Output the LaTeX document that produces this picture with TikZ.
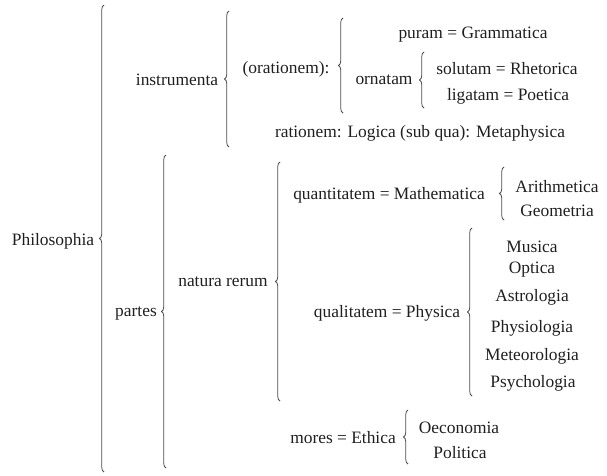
\documentclass[tikz,border=0pt]{standalone}
\usepackage{fontspec}
\setmainfont{Liberation Serif}
\usetikzlibrary{decorations.pathreplacing}
\begin{document}
\begin{tikzpicture}[x=1pt,y=-1pt,
  lbl/.style={inner sep=0pt, font=\rmfamily\fontsize{17.4}{20}\selectfont, text=black!88},
  brc/.style={decorate, decoration={brace, amplitude=4.5pt}, draw=black!70, line width=0.8pt}]
\useasboundingbox (0,0) rectangle (607,475);
% labels
\node[lbl] (phil) at (53,241) {Philosophia};
\node[lbl] (instr) at (177,80) {instrumenta};
\node[lbl] (orat) at (286,69) {(orationem):};
\node[lbl] (puram) at (473,35) {puram = Grammatica};
\node[lbl] (ornat) at (384,80) {ornatam};
\node[lbl] (solut) at (507,69) {solutam = Rhetorica};
\node[lbl] (ligat) at (508,96) {ligatam = Poetica};
\node[lbl] (ration) at (420,133) {rationem: Logica (sub qua): Metaphysica};
\node[lbl] (partes) at (136,313) {partes};
\node[lbl] (natura) at (223,282) {natura rerum};
\node[lbl] (quant) at (389,195) {quantitatem = Mathematica};
\node[lbl] (arith) at (557,187) {Arithmetica};
\node[lbl] (geom) at (557,211) {Geometria};
\node[lbl] (qual) at (387,313) {qualitatem = Physica};
\node[lbl] (mus) at (532,247) {Musica};
\node[lbl] (opt) at (532,270) {Optica};
\node[lbl] (astr) at (532,297) {Astrologia};
\node[lbl] (physio) at (532,328) {Physiologia};
\node[lbl] (meteo) at (532,356) {Meteorologia};
\node[lbl] (psych) at (533,383) {Psychologia};
\node[lbl] (mores) at (343,438) {mores = Ethica};
\node[lbl] (oecon) at (459,428) {Oeconomia};
\node[lbl] (polit) at (460,453) {Politica};
% brace end points
\coordinate (b1t) at (104,5);   \coordinate (b1b) at (104,472);
\coordinate (b2t) at (229,11);  \coordinate (b2b) at (229,147);
\coordinate (b3t) at (343,18);  \coordinate (b3b) at (343,113);
\coordinate (b4t) at (424,52);  \coordinate (b4b) at (424,108);
\coordinate (b5t) at (166,155); \coordinate (b5b) at (166,468);
\coordinate (b6t) at (280,162); \coordinate (b6b) at (280,401);
\coordinate (b7t) at (504,167); \coordinate (b7b) at (504,220);
\coordinate (b8t) at (472,228); \coordinate (b8b) at (472,396);
\coordinate (b9t) at (408,410); \coordinate (b9b) at (408,464);
% braces
\draw[brc] (b1b) -- (b1t);
\draw[brc] (b2b) -- (b2t);
\draw[brc] (b3b) -- (b3t);
\draw[brc] (b4b) -- (b4t);
\draw[brc] (b5b) -- (b5t);
\draw[brc] (b6b) -- (b6t);
\draw[brc] (b7b) -- (b7t);
\draw[brc] (b8b) -- (b8t);
\draw[brc] (b9b) -- (b9t);
\end{tikzpicture}
\end{document}
